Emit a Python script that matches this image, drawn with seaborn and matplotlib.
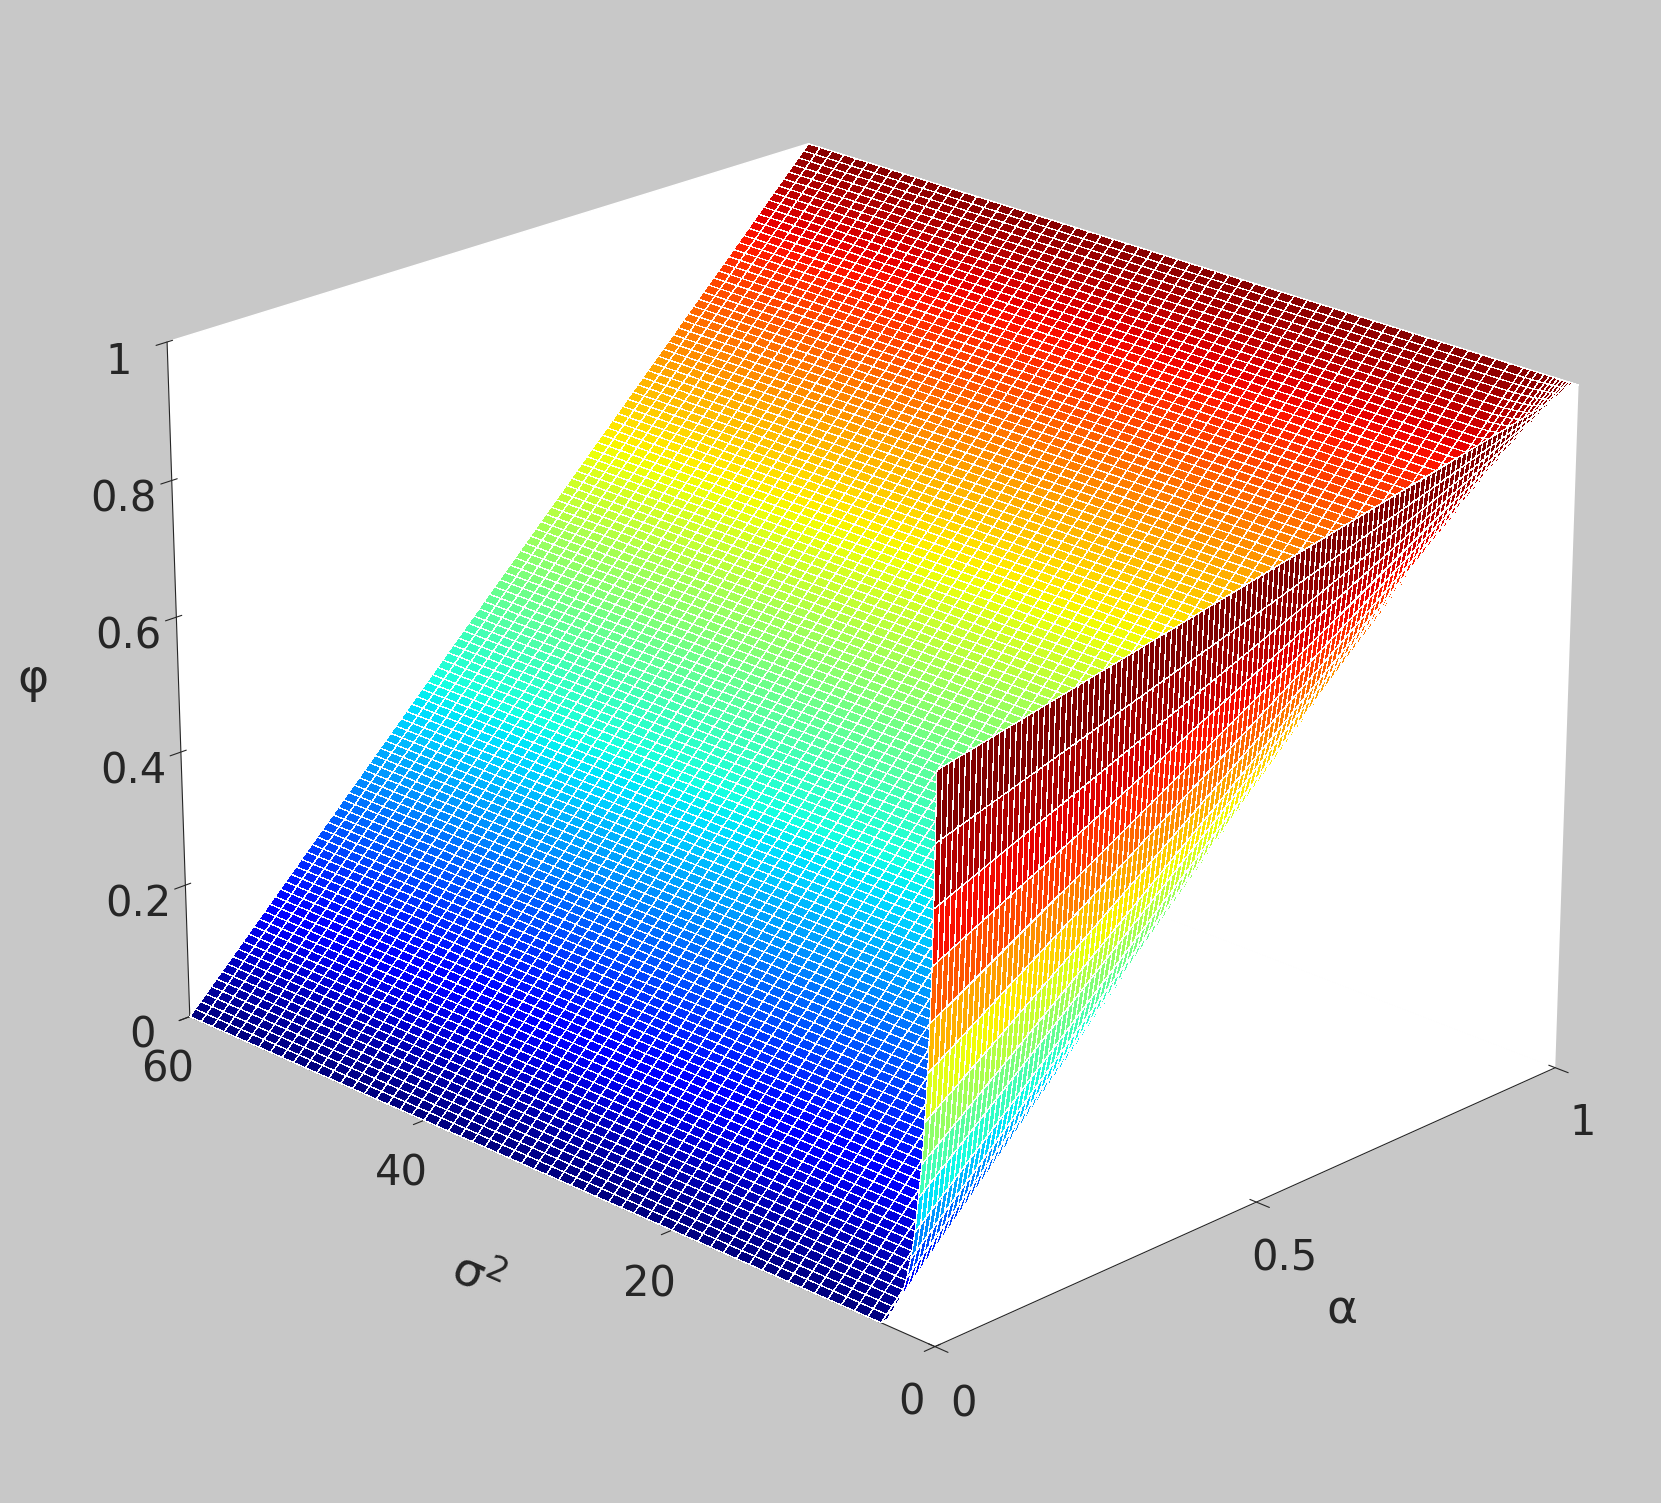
import numpy as np
import matplotlib
matplotlib.use('Agg')
import matplotlib.pyplot as plt
import seaborn as sns

sns.set_style('white')
plt.rcParams['font.family'] = ['DejaVu Sans']

# grid: ramp phi = alpha, with a steep wall at sigma2 ~ 0
sigma2_wall = np.array([0.0, 0.1, 0.2, 0.3, 0.45, 0.6, 0.8, 1.0, 1.25, 1.5, 1.8, 2.1, 2.5, 3.0, 3.5, 4.0])
wall_low = np.array([0.8, 0.7, 0.61, 0.53, 0.45, 0.38, 0.31, 0.25, 0.2, 0.15, 0.11, 0.08, 0.05, 0.03, 0.01, 0.0])
wall_col = np.array([1.0, 0.85, 0.72, 0.6, 0.48, 0.38, 0.3, 0.23, 0.17, 0.12, 0.08, 0.05, 0.03, 0.01, 0.0, 0.0])
sigma2_ramp = np.linspace(5, 60, 56)

sigma2 = np.concatenate([sigma2_wall, sigma2_ramp])
low = np.concatenate([wall_low, np.zeros(len(sigma2_ramp))])
col = np.concatenate([wall_col, np.zeros(len(sigma2_ramp))])
alpha = np.linspace(0, 1, 121)

A, S = np.meshgrid(alpha, sigma2)
W = low[:, None]
PHI = W + (1 - W) * A
C = np.clip(PHI + col[:, None] * (1 - PHI), 0, 1)

fig = plt.figure(figsize=(16.61, 15.03), dpi=100, facecolor='#c8c8c8')
ax = fig.add_subplot(111, projection='3d')
ax.set_facecolor('#c8c8c8')
cmap = plt.get_cmap('jet')
ax.plot_surface(A, S, PHI, facecolors=cmap(C), rstride=1, cstride=1, linewidth=0.15,
                edgecolor='white', antialiased=False, shade=False)

ax.set_xlim(0, 1)
ax.set_ylim(0, 60)
ax.set_zlim(0, 1)
ax.set_xticks([0, 0.5, 1])
ax.set_xticklabels(['0', '0.5', '1'])
ax.set_yticks([0, 20, 40, 60])
ax.set_zticks([0, 0.2, 0.4, 0.6, 0.8, 1])
ax.set_zticklabels(['0', '0.2', '0.4', '0.6', '0.8', '1'])
ax.tick_params(labelsize=30, pad=12)
ax.set_xlabel('α', fontsize=34, labelpad=40)
ax.set_ylabel('σ$^2$', fontsize=34, labelpad=40)
ax.set_zlabel('φ', fontsize=34, labelpad=40)
ax.grid(False)
for axis in (ax.xaxis, ax.yaxis, ax.zaxis):
    axis.set_pane_color((1, 1, 1, 1))
    axis.pane.set_edgecolor('white')
ax.view_init(elev=22, azim=-135)
ax.set_box_aspect((1, 1.2, 0.82))

plt.subplots_adjust(left=0.05, right=0.97, top=1.07, bottom=-0.04)
plt.savefig('out.png', dpi=100, facecolor='#c8c8c8')
